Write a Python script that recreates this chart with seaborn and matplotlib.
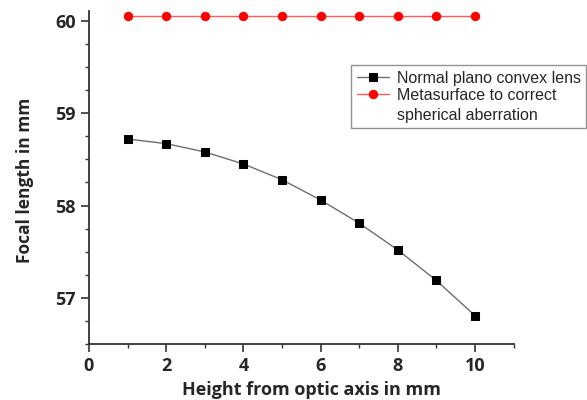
import matplotlib
matplotlib.use("Agg")
import matplotlib.pyplot as plt
import seaborn as sns
import pandas as pd
from matplotlib.ticker import MultipleLocator
from matplotlib.offsetbox import HPacker

height_mm = [1, 2, 3, 4, 5, 6, 7, 8, 9, 10]
normal_lens = [58.72, 58.67, 58.58, 58.45, 58.28, 58.06, 57.81, 57.52, 57.19, 56.81]
metasurface = [60.05, 60.05, 60.05, 60.05, 60.05, 60.05, 60.05, 60.05, 60.05, 60.05]
label_normal = "Normal plano convex lens"
label_meta = "Metasurface to correct\nspherical aberration"
x_label = "Height from optic axis in mm"
y_label = "Focal length in mm"

sns.set_style("ticks")
plt.rcParams['font.family'] = ['Open Sans', 'DejaVu Sans']

fig = plt.figure(figsize=(5.87, 4.0), dpi=100)
ax = fig.add_axes([89/587, 1-344.3/400, (513.6-89)/587, (344.3-11.4)/400])

sns.lineplot(x=height_mm, y=normal_lens, ax=ax, color="#6e6e6e", lw=1.0,
             marker="s", markersize=5.5, markerfacecolor="black",
             markeredgecolor="black", label=label_normal)
sns.lineplot(x=height_mm, y=metasurface, ax=ax, color="#ff5a5a", lw=1.0,
             marker="o", markersize=6, markerfacecolor="#ff0000",
             markeredgecolor="#ff0000", label=label_meta)

ax.set_xlim(0, 11)
ax.set_ylim(56.5, 60.1)
ax.set_xticks([0, 2, 4, 6, 8, 10])
ax.set_yticks([57, 58, 59, 60])
ax.xaxis.set_minor_locator(MultipleLocator(1))
ax.yaxis.set_minor_locator(MultipleLocator(0.25))
ax.tick_params(which="major", direction="out", length=5.5, width=1.2, color="#333333",
               labelsize=13, pad=4)
ax.tick_params(which="minor", direction="out", length=3, width=1.0, color="#333333")
for lbl in ax.get_xticklabels() + ax.get_yticklabels():
    lbl.set_fontweight("bold")

for s in ["top", "right"]:
    ax.spines[s].set_visible(False)
for s in ["left", "bottom"]:
    ax.spines[s].set_linewidth(1.3)
    ax.spines[s].set_color("#333333")

ax.set_xlabel(x_label, fontsize=13, fontweight="bold")
ax.set_ylabel(y_label, fontsize=12.5, fontweight="bold")
ax.xaxis.set_label_coords((312-89)/424.6, -(381-344.3)/332.9)
ax.yaxis.set_label_coords((34-89)/424.6, (344.3-180)/332.9)

leg = ax.legend(loc="upper left", bbox_to_anchor=(351/587, 1-65/400),
                bbox_transform=fig.transFigure, frameon=True, fancybox=False,
                prop={"family": ["Liberation Sans"], "size": 11.5},
                handlelength=2.0, handletextpad=0.5, labelspacing=0.15,
                handleheight=0.9, borderpad=0.35, borderaxespad=0)
leg.get_frame().set_edgecolor("#777777")
leg.get_frame().set_linewidth(1.0)
for t in leg.get_texts():
    t.set_linespacing(1.4)
for col in leg._legend_handle_box.get_children():
    for row in col.get_children():
        if isinstance(row, HPacker):
            row.align = "top"

fig.savefig("out.png", dpi=100)
